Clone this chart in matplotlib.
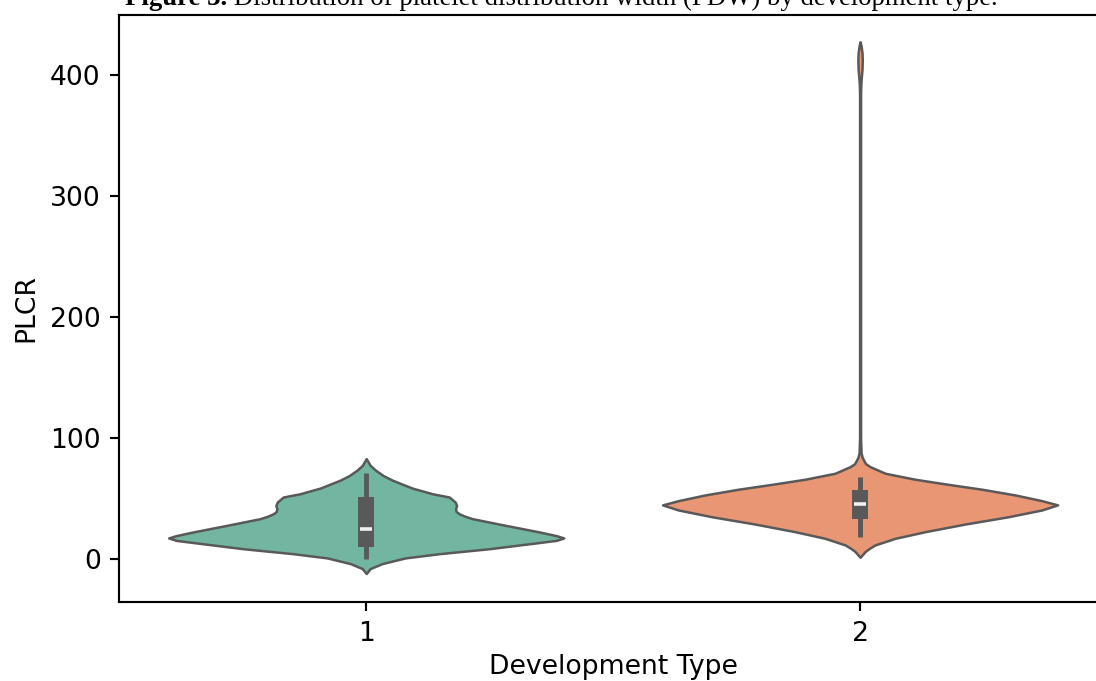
import matplotlib
matplotlib.use('Agg')
import matplotlib.pyplot as plt
import seaborn as sns

# ====== data (PLCR by development type) ======
categories = ['1', '2']

# violin outline: PLCR value and half width (category units, max 0.4)
v1_values = [83.1, 77.5, 73.5, 69.0, 65.3, 58.8, 54.1, 51.4, 47.3, 44.5, 41.8, 39.5, 37.6,
             35.5, 33.5, 28.1, 22.6, 19.5, 17.6, 15.6, 13.8, 8.7, 4.6, 1.1, -3.6, -7.7, -11.8]
v1_halfwidth = [0.0, 0.008, 0.019, 0.035, 0.053, 0.093, 0.134, 0.168, 0.180, 0.183, 0.181, 0.182, 0.188,
                0.200, 0.215, 0.281, 0.350, 0.385, 0.400, 0.385, 0.350, 0.249, 0.148, 0.079, 0.032, 0.008, 0.0]

v2_values = [427.3, 424.0, 418.0, 412.0, 405.0, 398.0, 392.0, 385.0, 100.0, 88.0, 84.5, 82.0, 79.0,
             76.5, 71.0, 66.1, 61.9, 57.8, 53.1, 48.4, 44.9, 40.7, 35.1, 29.1, 22.8,
             17.3, 11.8, 8.5, 6.3, 1.6]
v2_halfwidth = [0.0, 0.002, 0.004, 0.0045, 0.004, 0.0025, 0.0015, 0.001, 0.001, 0.002, 0.004, 0.007, 0.011,
                0.020, 0.051, 0.111, 0.178, 0.247, 0.314, 0.368, 0.400, 0.368, 0.300, 0.213, 0.132,
                0.071, 0.030, 0.017, 0.010, 0.0]

# inner box: whisker low, q1, median, q3, whisker high
box1 = [0.0, 10.5, 24.8, 51.4, 71.5]
box2 = [18.7, 33.0, 45.4, 57.2, 68.2]

profiles = [(v1_values, v1_halfwidth, box1), (v2_values, v2_halfwidth, box2)]

# ====== colours ======
pal = [sns.desaturate(c, 0.75) for c in sns.color_palette('Set2', 2)]
line_color = '#595959'

# ====== plot ======
fig = plt.figure(figsize=(10.96, 6.81), dpi=100)
ax = fig.add_axes([119.3 / 1096, 79 / 681, 987.7 / 1096, 587.3 / 681])

for pos, (vals, hw, box) in enumerate(profiles):
    left = [pos - w for w in hw]
    right = [pos + w for w in hw]
    ax.fill_betweenx(vals, left, right, facecolor=pal[pos], edgecolor=line_color,
                     linewidth=1.8, zorder=2)
    lo, q1, med, q3, hi = box
    ax.plot([pos, pos], [lo, hi], color=line_color, linewidth=3.5,
            solid_capstyle='butt', zorder=3)
    ax.plot([pos, pos], [q1, q3], color=line_color, linewidth=11.5,
            solid_capstyle='butt', zorder=3)
    ax.plot([pos], [med], marker='_', markersize=8, markeredgewidth=2.6,
            color='#f0f0f0', zorder=4)

ax.set_xlim(-0.5, 1.5)
ax.set_ylim(-35.3, 449.7)
ax.set_xticks(range(len(categories)))
ax.set_xticklabels(categories)
ax.set_yticks([0, 100, 200, 300, 400])
ax.tick_params(length=6.7, width=1.54, pad=6.7, labelsize=19.2)
for s in ax.spines.values():
    s.set_linewidth(1.54)
ax.set_xlabel('Development Type', fontsize=19.2, labelpad=5.5)
ax.set_ylabel('PLCR', fontsize=19.2, labelpad=7.7)

# caption, cut at the top edge like the source
t1 = fig.text(125 / 1096, 1 - 5 / 681, 'Figure 3.', fontsize=19.25, fontweight='bold',
              family='Liberation Serif', va='baseline')
fig.canvas.draw()
bb = t1.get_window_extent()
fig.text(bb.x1 / fig.bbox.width, 1 - 5 / 681,
         ' Distribution of platelet distribution width (PDW) by development type.',
         fontsize=19.25, family='Liberation Serif', va='baseline')

plt.savefig('out.png', dpi=100)
plt.close()
